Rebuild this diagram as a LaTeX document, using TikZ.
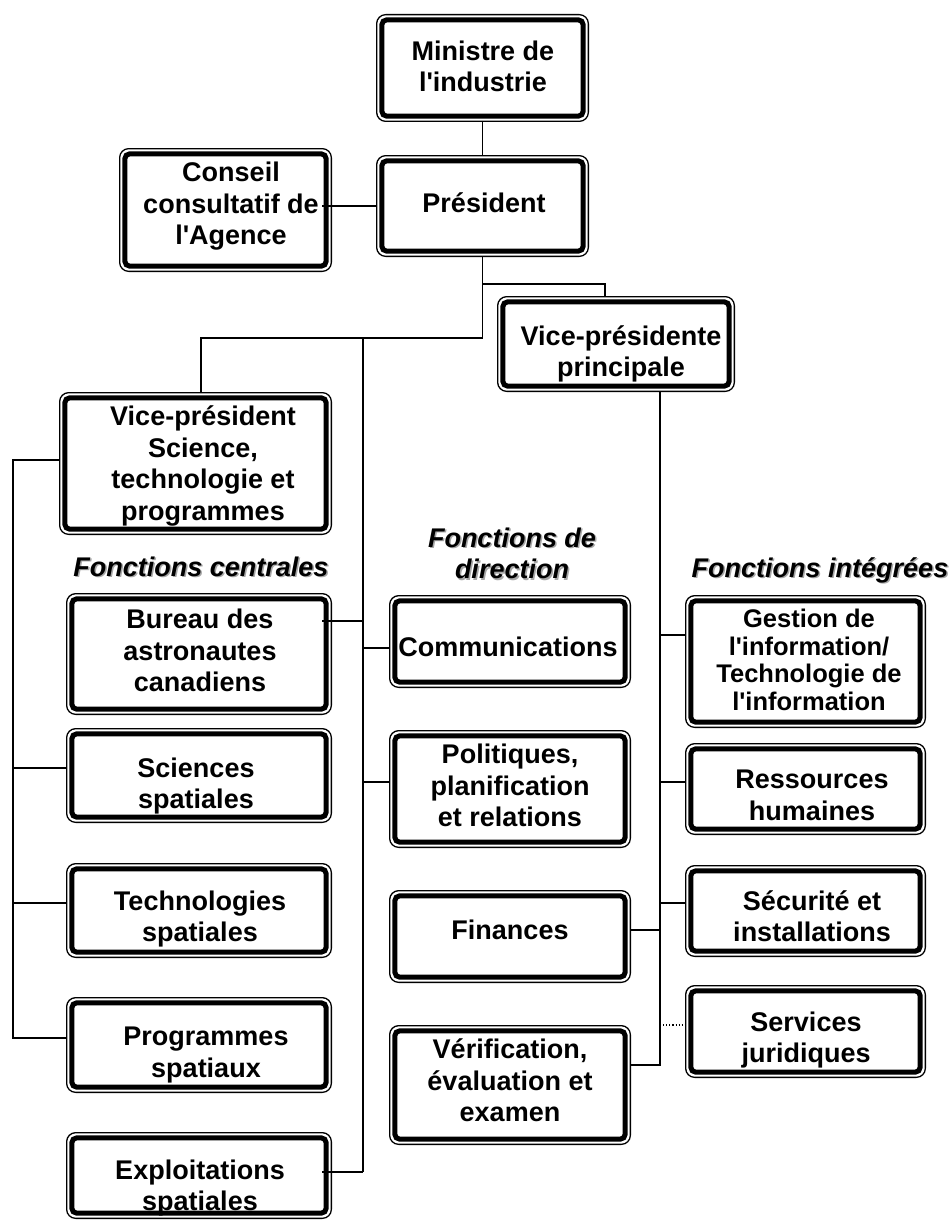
\documentclass[tikz,border=0pt]{standalone}
\usepackage{fontspec}
\setmainfont{Liberation Sans}
\usetikzlibrary{calc}
\newcommand\ap{\textquotesingle}
% double frame: thick rounded border (the node) plus a thin outer border
\newcommand\orgframe[5]{%
  \node[orgbox, minimum width={#4pt-#2pt-11.6pt}, minimum height={#5pt-#3pt-11.6pt}] (#1) at ({(#2+#4)/2},{(#3+#5)/2}) {};
  \draw[thinframe] ([shift={(0.65pt,-0.65pt)}]#1.north west) rectangle ([shift={(-0.65pt,0.65pt)}]#1.south east);
}
\begin{document}
\begin{tikzpicture}[x=1pt,y=-1pt,
  orgbox/.style={draw, line width=5pt, rounded corners=5pt, inner sep=0pt, outer sep=5.8pt},
  thinframe/.style={draw, line width=1.3pt, rounded corners=9pt},
  boxtext/.style={font=\fontsize{27}{31.5}\selectfont\bfseries, align=center, inner sep=0pt,
    execute at begin node=\strut, execute at end node=\strut},
  tighttext/.style={boxtext, font=\fontsize{25.5}{27.5}\selectfont\bfseries},
  headtext/.style={font=\fontsize{27}{31.5}\selectfont\bfseries\itshape, align=center, inner sep=0pt,
    execute at begin node=\strut, execute at end node=\strut},
  headshadow/.style={headtext, text=black!35},
  link/.style={line width=1.3pt},
  dotlink/.style={line width=1.1pt, dotted}
]
\fill[white] (0,0) rectangle (951,1220);
\useasboundingbox (0,0) rectangle (951,1220);

% ---- frames ----
\orgframe{min}{376}{14}{589}{122}
\orgframe{pres}{376}{155}{589}{257}
\orgframe{cons}{119}{148}{332}{272}
\orgframe{vpp}{497}{296}{735}{392}
\orgframe{vps}{59}{392}{332}{535}
\orgframe{bur}{66}{593}{332}{715}
\orgframe{sci}{66}{728}{332}{823}
\orgframe{tec}{66}{863}{332}{958}
\orgframe{prg}{66}{997}{332}{1093}
\orgframe{exp}{66}{1132}{332}{1219}
\orgframe{com}{389}{595}{631}{688}
\orgframe{pol}{389}{730}{631}{848}
\orgframe{fin}{389}{890}{631}{983}
\orgframe{ver}{389}{1025}{631}{1145}
\orgframe{ges}{685}{595}{926}{728}
\orgframe{res}{685}{743}{926}{835}
\orgframe{sec}{685}{865}{926}{957}
\orgframe{ser}{685}{985}{926}{1078}

% ---- box labels ----
\node[boxtext] (min-t) at (483,71) {Ministre de\\l\ap industrie};
\node[boxtext] (pres-t) at (484,206) {Président};
\node[boxtext] (cons-t) at (231,208) {Conseil\\consultatif de\\l\ap Agence};
\node[boxtext] (vpp-t) at (621,356) {Vice-présidente\\principale};
\node[boxtext] (vps-t) at (203,468) {Vice-président\\Science,\\technologie et\\programmes};
\node[boxtext] (bur-t) at (200,655) {Bureau des\\astronautes\\canadiens};
\node[boxtext] (sci-t) at (196,788) {Sciences\\spatiales};
\node[boxtext] (tec-t) at (200,921) {Technologies\\spatiales};
\node[boxtext] (prg-t) at (206,1057) {Programmes\\spatiaux};
\node[boxtext] (exp-t) at (200,1190) {Exploitations\\spatiales};
\node[boxtext] (com-t) at (508,650) {Communications};
\node[boxtext] (pol-t) at (510,790) {Politiques,\\planification\\et relations};
\node[boxtext] (fin-t) at (510,933) {Finances};
\node[boxtext] (ver-t) at (510,1085) {Vérification,\\évaluation et\\examen};
\node[tighttext] (ges-t) at (809,664) {Gestion de\\l\ap information/\\Technologie de\\l\ap information};
\node[boxtext] (res-t) at (812,800) {Ressources\\humaines};
\node[boxtext] (sec-t) at (812,921) {Sécurité et\\installations};
\node[boxtext] (ser-t) at (806,1042) {Services\\juridiques};

% ---- column headings with drop shadow ----
\node[headshadow] (hcen-s) at (202.5,571.5) {Fonctions centrales};
\node[headtext] (hcen) at (201,570) {Fonctions centrales};
\node[headshadow] (hdir-s) at (513.5,559.5) {Fonctions de\\direction};
\node[headtext] (hdir) at (512,558) {Fonctions de\\direction};
\node[headshadow] (hint-s) at (821.5,572.5) {Fonctions intégrées};
\node[headtext] (hint) at (820,571) {Fonctions intégrées};

% ---- connectors ----
\draw[link] (min.south) -- (pres.north);
\draw[link] ($(cons.east |- pres.west)+(-10,0)$) -- (pres.west);

\coordinate (ja) at (pres.south |- 0,284);
\coordinate (jb) at (pres.south |- 0,338);
\draw[link] (pres.south) -- (jb);
\draw[link] (ja) -| ($(vpp.north)+(-11,0)$);
\draw[link] (jb) -| ($(vps.north)+(5.5,0)$);

% central trunk
\coordinate (ct) at (363,338);
\coordinate (cb) at (363,1172);
\draw[link] (ct) -- (cb);
\draw[link] ($(bur.east |- 0,621)+(-10,0)$) -- (ct |- 0,621);
\draw[link] (ct |- 0,648) -- (com.west |- 0,648);
\draw[link] (ct |- 0,782) -- (pol.west |- 0,782);
\draw[link] ($(exp.east |- cb)+(-10,0)$) -- (cb);

% left trunk
\coordinate (lt) at (13,460);
\coordinate (lb) at (13,1038);
\draw[link] (vps.west |- lt) -- (lt) -- (lb) -- (prg.west |- lb);
\draw[link] (lt |- 0,768) -- (sci.west |- 0,768);
\draw[link] (lt |- 0,903) -- (tec.west |- 0,903);

% right trunk
\coordinate (rb) at (660,1065);
\draw[link] (vpp.south -| rb) -- (rb) -- (ver.east |- rb);
\draw[link] (rb |- 0,635) -- (ges.west |- 0,635);
\draw[link] (rb |- 0,782) -- (res.west |- 0,782);
\draw[link] (rb |- 0,903) -- (sec.west |- 0,903);
\draw[link] (rb |- 0,930) -- (fin.east |- 0,930);
\draw[dotlink] (rb |- 0,1025) -- (ser.west |- 0,1025);
\end{tikzpicture}
\end{document}
